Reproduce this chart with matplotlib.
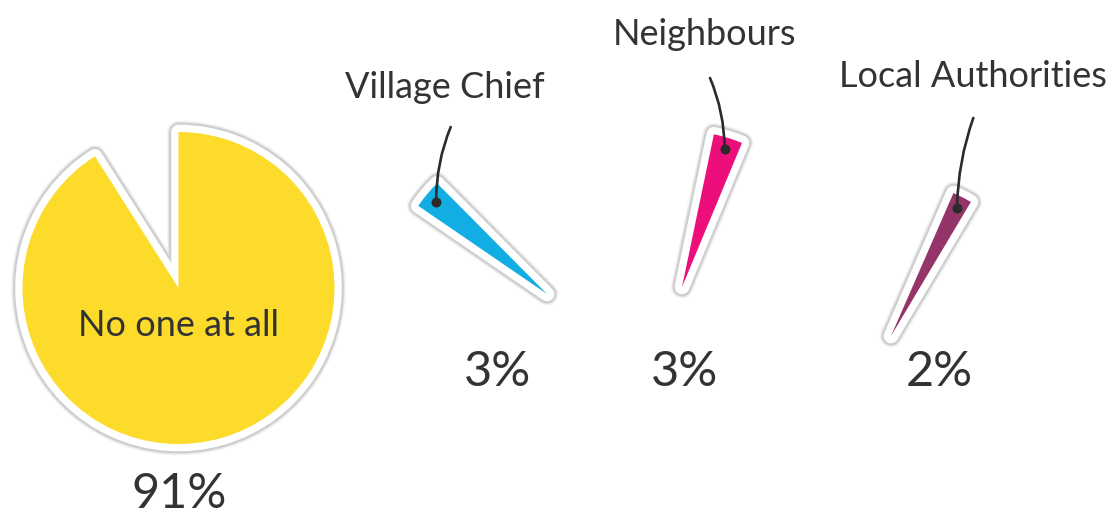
import matplotlib
matplotlib.use("Agg")
import matplotlib.pyplot as plt
from matplotlib.patches import Wedge
import matplotlib.patheffects as pe
from matplotlib import font_manager
import numpy as np

# ---- data ----
categories = ["No one at all", "Village Chief", "Neighbours", "Local Authorities"]
values = [91, 3, 3, 2]
pct_labels = ["91%", "3%", "3%", "2%"]
colors = ["#FDDB2B", "#12ADE3", "#EC0F7B", "#953468"]

# ---- layout (pixel coords, y down) ----
W, H = 1117, 514
apex = [(178.5, 288), (547, 294), (682, 287), (891, 336)]
mid_angle = [None, 140.2, 72.8, 62.8]
radius = 156
label_pos = [(178, 336), (445, 98), (705, 45), (973, 87)]
leader_top = [None, (450.7, 127), (710, 78), (973.3, 118)]
leader_rad = [None, 0.1, -0.1, 0.08]
pct_pos = [(179, 508), (498, 386), (685, 386), (939, 386)]

avail = {f.name for f in font_manager.fontManager.ttflist}
def pick(*names):
    for n in names:
        if n in avail:
            return n
    return "DejaVu Sans"
label_font = pick("Lato", "Open Sans", "Liberation Sans")
pct_font = pick("Liberation Sans Narrow", "Lato", "Liberation Sans")

TXT = "#333333"

fig = plt.figure(figsize=(W / 100, H / 100), dpi=100)
ax = fig.add_axes([0, 0, 1, 1])
ax.set_xlim(0, W)
ax.set_ylim(0, H)
ax.set_aspect("equal")
ax.axis("off")

def Y(y):
    return H - y

JS = "round"
effects = [
    pe.Stroke(linewidth=16.5, foreground="#000000", alpha=0.04, joinstyle=JS),
    pe.Stroke(linewidth=15, foreground="#000000", alpha=0.06, joinstyle=JS),
    pe.Stroke(linewidth=13.5, foreground="#000000", alpha=0.10, joinstyle=JS),
    pe.Stroke(linewidth=10.5, foreground="white", joinstyle=JS),
    pe.Normal(),
]

for i, v in enumerate(values):
    cx, cy = apex[i][0], Y(apex[i][1])
    span = 360 * v / 100
    if i == 0:
        t1 = 90 + 360 * (100 - v) / 100
        t2 = 450
    else:
        t1 = mid_angle[i] - span / 2
        t2 = mid_angle[i] + span / 2
    w = Wedge((cx, cy), radius, t1, t2, facecolor=colors[i], edgecolor="none",
              zorder=2)
    w.set_path_effects(effects)
    ax.add_patch(w)

    if i > 0:
        a = np.deg2rad(mid_angle[i])
        dx_, dy_ = cx + 0.925 * radius * np.cos(a), cy + 0.925 * radius * np.sin(a)
        tx, ty = leader_top[i][0], Y(leader_top[i][1])
        ax.annotate("", xy=(dx_, dy_), xytext=(tx, ty),
                    arrowprops=dict(arrowstyle="-", color="#2b2b2b", lw=1.9,
                                    shrinkA=0, shrinkB=0,
                                    connectionstyle=f"arc3,rad={leader_rad[i]}"),
                    zorder=4)
        ax.scatter([dx_], [dy_], s=52, color="#2b2b2b", zorder=5, linewidths=0)

    lx, ly = label_pos[i]
    ax.text(lx, Y(ly), categories[i], ha="center", va="baseline", fontsize=26,
            color=TXT, family=label_font, zorder=6)
    px, py = pct_pos[i]
    ax.text(px, Y(py), pct_labels[i], ha="center", va="baseline", fontsize=35,
            color=TXT, family=pct_font, fontweight="normal", zorder=6)

fig.savefig("out.png", dpi=100, facecolor="white")
